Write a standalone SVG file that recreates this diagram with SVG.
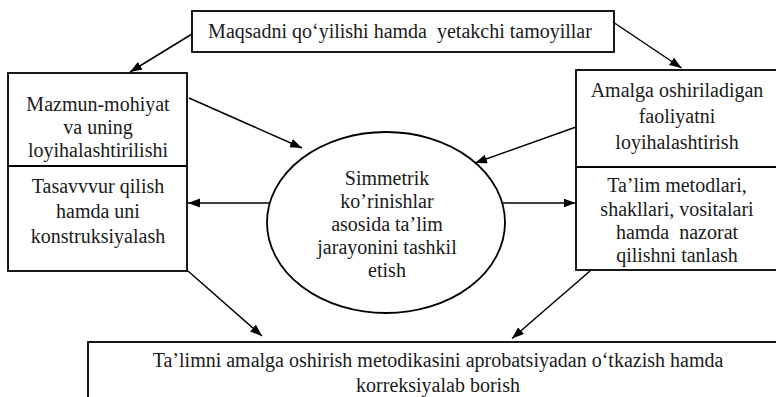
<svg xmlns="http://www.w3.org/2000/svg" width="776" height="397" viewBox="0 0 776 397">
<defs>
<marker id="ah" markerUnits="userSpaceOnUse" markerWidth="13" markerHeight="10" refX="12" refY="4.5" orient="auto">
<path d="M0,0 L12,4.5 L0,9 z" fill="#000"/>
</marker>
<style>
.box{fill:#fff;stroke:#000;stroke-width:1.8}
.t{font-family:'Liberation Serif',serif;font-size:20px;fill:#1a1a1a;text-anchor:middle}
.c{stroke:#000;stroke-width:1.5;fill:none;marker-end:url(#ah)}
</style>
</defs>
<rect width="776" height="397" fill="#fff"/>
<g id="top">
<rect class="box" x="192" y="11" width="422" height="41"/>
<text class="t" x="400" y="38" xml:space="preserve">Maqsadni qo‘yilishi hamda  yetakchi tamoyillar</text>
</g>
<g id="left">
<rect class="box" x="8" y="73" width="179" height="198"/>
<line x1="8" y1="166" x2="187" y2="166" stroke="#000" stroke-width="1.8"/>
<text class="t" x="98" y="111">Mazmun-mohiyat</text>
<text class="t" x="98" y="134">va uning</text>
<text class="t" x="98" y="157">loyihalashtirilishi</text>
<text class="t" x="98" y="193">Tasavvvur qilish</text>
<text class="t" x="98" y="218">hamda uni</text>
<text class="t" x="98" y="243">konstruksiyalash</text>
</g>
<g id="right">
<rect class="box" x="576" y="70" width="210" height="200"/>
<line x1="576" y1="167" x2="786" y2="167" stroke="#000" stroke-width="1.8"/>
<text class="t" x="677" y="97">Amalga oshiriladigan</text>
<text class="t" x="677" y="123">faoliyatni</text>
<text class="t" x="677" y="149">loyihalashtirish</text>
<text class="t" x="677" y="192">Ta’lim metodlari,</text>
<text class="t" x="677" y="216">shakllari, vositalari</text>
<text class="t" x="677" y="239" xml:space="preserve">hamda  nazorat</text>
<text class="t" x="677" y="262">qilishni tanlash</text>
</g>
<g id="center">
<ellipse class="box" cx="386" cy="222.5" rx="119" ry="90.5"/>
<text class="t" x="387" y="185">Simmetrik</text>
<text class="t" x="387" y="208">ko’rinishlar</text>
<text class="t" x="387" y="231">asosida ta’lim</text>
<text class="t" x="387" y="254">jarayonini tashkil</text>
<text class="t" x="387" y="277">etish</text>
</g>
<g id="bottom">
<rect class="box" x="88" y="342" width="700" height="70"/>
<text class="t" x="438" y="367">Ta’limni amalga oshirish metodikasini aprobatsiyadan o‘tkazish hamda</text>
<text class="t" x="438" y="392">korreksiyalab borish</text>
</g>
<g id="connectors">
<line class="c" x1="192" y1="34" x2="130" y2="72"/>
<line class="c" x1="613" y1="22" x2="681.5" y2="68"/>
<line class="c" x1="189" y1="98" x2="302" y2="148"/>
<line class="c" x1="576" y1="127" x2="475" y2="163"/>
<line class="c" x1="270" y1="203" x2="188" y2="203"/>
<line class="c" x1="503" y1="203" x2="575.5" y2="203"/>
<line class="c" x1="188" y1="271" x2="262" y2="336"/>
<line class="c" x1="590" y1="271" x2="512" y2="338.5"/>
</g>
</svg>
